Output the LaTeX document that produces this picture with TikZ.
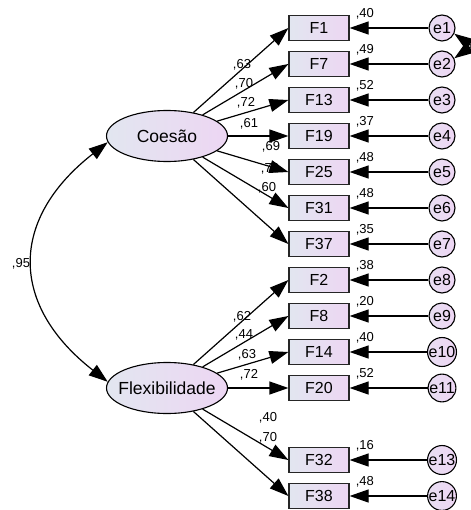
\documentclass[tikz,border=0pt]{standalone}
\usepackage{fontspec}
\setmainfont{Liberation Sans}
\usetikzlibrary{arrows.meta,shapes.geometric}

\definecolor{shadeL}{RGB}{226,230,240}
\definecolor{shadeR}{RGB}{237,214,243}
\definecolor{errL}{RGB}{232,222,242}
\definecolor{errR}{RGB}{238,214,244}

\begin{document}
\begin{tikzpicture}[x=1pt,y=-1pt,
  >={Triangle[length=19pt,width=13pt]},
  lat/.style={ellipse, draw=black, line width=1.1pt, minimum width=121pt,
    minimum height=51pt, inner sep=0pt, left color=shadeL, right color=shadeR,
    font=\fontsize{17.5}{20}\selectfont},
  obs/.style={rectangle, draw=black!85, line width=1.2pt, minimum width=60pt,
    minimum height=25pt, inner sep=0pt, left color=shadeL, right color=shadeR,
    font=\fontsize{16}{18}\selectfont},
  err/.style={circle, draw=black, line width=1.1pt, minimum size=26pt,
    inner sep=0pt, left color=errL, right color=errR,
    font=\fontsize{16}{18}\selectfont},
  num/.style={inner sep=0pt, font=\fontsize{13}{15}\selectfont},
  reg/.style={line width=1.2pt, ->},
  cov/.style={line width=1.2pt, <->},
]
\useasboundingbox (0,0) rectangle (470,510);

% latent factors
\node[lat] (coes) at (167,136) {\makebox[0pt]{Coesão}};
\node[lat] (flex) at (167,388) {\makebox[0pt]{Flexibilidade}};

% observed items with their error terms and squared multiple correlations
\foreach \f/\e/\y/\r in {F1/e1/28/{,40}, F7/e2/64/{,49}, F13/e3/100/{,52},
    F19/e4/136/{,37}, F25/e5/172/{,48}, F31/e6/208/{,48}, F37/e7/244/{,35},
    F2/e8/280/{,38}, F8/e9/316/{,20}, F14/e10/352/{,40}, F20/e11/388/{,52},
    F32/e13/460/{,16}, F38/e14/496/{,48}} {
  \node[obs] (\f) at (319,\y) {\f};
  \node[err] (\e) at (442,\y) {\e};
  \node[num, anchor=base west] (r\f) at ([xshift=6pt,yshift=-3pt]\f.north east) {\r};
  \draw[reg] (\e) -- (\f);
}

% standardized loadings
\node[num] (lF1)  at (242,65)  {,63};
\node[num] (lF7)  at (244,84)  {,70};
\node[num] (lF13) at (246,103) {,72};
\node[num] (lF19) at (249,124) {,61};
\node[num] (lF25) at (271,147) {,69};
\node[num] (lF31) at (270,169) {,70};
\node[num] (lF37) at (267,188) {,60};
\node[num] (lF2)  at (242,317) {,62};
\node[num] (lF8)  at (244,335) {,44};
\node[num] (lF14) at (247,355) {,63};
\node[num] (lF20) at (249,375) {,72};
\node[num] (lF32) at (268,418) {,40};
\node[num] (lF38) at (268,438) {,70};

\foreach \f in {F1,F7,F13,F19,F25,F31,F37}
  \draw[reg] (coes) -- (\f.west);
\foreach \f in {F2,F8,F14,F20,F32,F38}
  \draw[reg] (flex) -- (\f.west);

% factor correlation
\draw[cov] (coes.186) to[out=218,in=142,distance=125pt] (flex.174);
\node[num] (rho) at (21,264) {,95};

% correlated errors
\draw[cov] (e1.335) to[out=-35,in=35,distance=24pt] (e2.25);
\end{tikzpicture}
\end{document}
